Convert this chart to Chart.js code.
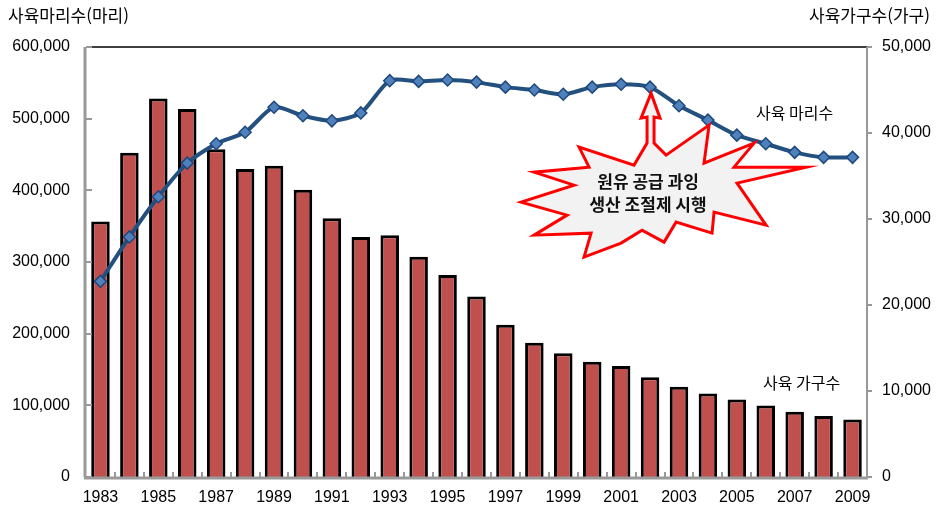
<!DOCTYPE html>
<html lang="ko">
<head>
<meta charset="utf-8">
<title>사육 마리수 / 사육 가구수</title>
<script src="https://cdn.jsdelivr.net/npm/chart.js@4/dist/chart.umd.min.js"></script>
<style>
  html, body { margin: 0; padding: 0; background: #fff; }
  #wrap { width: 937px; height: 520px; position: relative; }
</style>
</head>
<body>
<div id="wrap"><canvas id="grafico"></canvas></div>
<script>
// 연도별 사육 가구수(막대, 오른쪽 축)와 사육 마리수(선, 왼쪽 축)
const anos = ['1983', '1984', '1985', '1986', '1987', '1988', '1989', '1990', '1991',
  '1992', '1993', '1994', '1995', '1996', '1997', '1998', '1999', '2000', '2001',
  '2002', '2003', '2004', '2005', '2006', '2007', '2008', '2009'];

const gaguSu = [29700, 37700, 44000, 42800, 38100, 35800, 36200, 33400, 30100,
  27900, 28100, 25600, 23500, 21000, 17700, 15600, 14400, 13400, 12900,
  11600, 10500, 9700, 9000, 8300, 7600, 7100, 6700];

const mariSu = [273000, 335000, 391000, 438000, 465000, 481000, 516000, 504000, 497000,
  508000, 553000, 552000, 554000, 551000, 544000, 540000, 534000, 544000, 548000,
  544000, 518000, 498000, 477000, 465000, 453000, 446000, 446000];

const ticksMari = [0, 100000, 200000, 300000, 400000, 500000, 600000];
const ticksGagu = [0, 10000, 20000, 30000, 40000, 50000];

const fonteNum = "'Liberation Sans', Arial, sans-serif";
const fonteKr = "'Noto Sans CJK KR', 'Noto Sans', sans-serif";

// 폭발 말풍선 꼭짓점 (화살표 끝 기준 오프셋)
const balao = [
  [-4, 50], [-4, 24], [-10, 25], [0, 0], [9, 25], [3, 24], [3, 50],
  [15, 62], [58, 32], [53, 70], [103, 50], [83, 74], [155, 74], [86, 90],
  [115, 132], [63, 119], [61, 140], [25, 129], [13, 149], [-9, 137], [-30, 150],
  [-67, 164], [-60, 140], [-117, 142], [-84, 122], [-130, 109], [-77, 92],
  [-117, 79], [-62, 74], [-72, 54], [-17, 72]
];

// 축선, 안쪽 눈금, 말풍선, 시리즈 이름
const decoracao = {
  id: 'decoracao',
  afterDatasetsDraw(chart) {
    const { ctx, chartArea: a, scales } = chart;
    const x = scales.x, y = scales.y, y1 = scales.y1;
    ctx.save();

    // 위쪽 테두리
    ctx.strokeStyle = '#000';
    ctx.lineWidth = 1.5;
    ctx.beginPath();
    ctx.moveTo(a.left, a.top);
    ctx.lineTo(a.right, a.top);
    ctx.stroke();

    // 왼쪽 축 + 안쪽 눈금
    ctx.strokeStyle = '#999';
    ctx.lineWidth = 3;
    ctx.beginPath();
    ctx.moveTo(a.left - 1, a.top);
    ctx.lineTo(a.left - 1, a.bottom);
    ctx.stroke();
    ctx.lineWidth = 2;
    ticksMari.forEach(v => {
      const py = Math.round(y.getPixelForValue(v));
      ctx.beginPath();
      ctx.moveTo(a.left, py);
      ctx.lineTo(a.left + 6, py);
      ctx.stroke();
    });

    // 오른쪽 축 + 바깥 눈금
    ctx.lineWidth = 2;
    ctx.beginPath();
    ctx.moveTo(a.right, a.top);
    ctx.lineTo(a.right, a.bottom);
    ctx.stroke();
    ticksGagu.forEach(v => {
      const py = Math.round(y1.getPixelForValue(v));
      ctx.beginPath();
      ctx.moveTo(a.right, py);
      ctx.lineTo(a.right + 5, py);
      ctx.stroke();
    });

    // 아래 축 + 구간 눈금
    ctx.lineWidth = 3;
    ctx.beginPath();
    ctx.moveTo(a.left - 2, a.bottom + 1);
    ctx.lineTo(a.right + 1, a.bottom + 1);
    ctx.stroke();
    ctx.lineWidth = 2;
    const passo = (a.right - a.left) / anos.length;
    for (let i = 1; i < anos.length; i++) {
      const px = Math.round(a.left + passo * i);
      ctx.beginPath();
      ctx.moveTo(px, a.bottom);
      ctx.lineTo(px, a.bottom - 5);
      ctx.stroke();
    }

    // 말풍선: 2002년 마리수 점을 가리킴
    const i2002 = anos.indexOf('2002');
    const ox = x.getPixelForValue(i2002) + 1;
    const oy = y.getPixelForValue(mariSu[i2002]) + 6;
    ctx.beginPath();
    balao.forEach(([dx, dy], k) => {
      if (k === 0) ctx.moveTo(ox + dx, oy + dy);
      else ctx.lineTo(ox + dx, oy + dy);
    });
    ctx.closePath();
    ctx.fillStyle = '#f2f2f2';
    ctx.fill();
    ctx.strokeStyle = '#ff0000';
    ctx.lineWidth = 3;
    ctx.lineJoin = 'miter';
    ctx.stroke();

    ctx.fillStyle = '#111';
    ctx.font = `bold 17px ${fonteKr}`;
    ctx.textAlign = 'center';
    ctx.textBaseline = 'middle';
    ctx.fillText('원유 공급 과잉', ox - 3, oy + 88);
    ctx.fillText('생산 조절제 시행', ox - 3, oy + 111);

    // 시리즈 이름
    ctx.fillStyle = '#000';
    ctx.font = `16px ${fonteKr}`;
    ctx.fillText('사육 마리수', x.getPixelForValue(anos.indexOf('2007')), y.getPixelForValue(508000));
    ctx.fillText('사육 가구수', x.getPixelForValue(anos.indexOf('2007')) + 7, y1.getPixelForValue(10900));

    // 축 제목
    ctx.font = `17px ${fonteKr}`;
    ctx.textAlign = 'left';
    ctx.fillText('사육마리수(마리)', 8, 16);
    ctx.textAlign = 'right';
    ctx.fillText('사육가구수(가구)', 930, 16);

    ctx.restore();
  }
};

const ctx = document.getElementById('grafico').getContext('2d');

new Chart(ctx, {
  data: {
    labels: anos,
    datasets: [
      {
        type: 'line',
        label: '사육 마리수',
        data: mariSu,
        yAxisID: 'y',
        order: 0,
        borderColor: '#23507f',
        borderWidth: 4,
        tension: 0.25,
        pointStyle: 'rectRot',
        pointRadius: 6,
        pointBackgroundColor: '#4f81bd',
        pointBorderColor: '#1f497d',
        pointBorderWidth: 1.5
      },
      {
        type: 'bar',
        label: '사육 가구수',
        data: gaguSu,
        yAxisID: 'y1',
        order: 1,
        backgroundColor: '#c0504d',
        borderColor: '#000',
        borderWidth: { top: 3, left: 3, right: 3, bottom: 0 },
        borderSkipped: 'bottom',
        barPercentage: 0.64,
        categoryPercentage: 1
      }
    ]
  },
  options: {
    responsive: true,
    maintainAspectRatio: false,
    animation: false,
    layout: { padding: { top: 47, left: 0, right: 0, bottom: 0 } },
    plugins: {
      legend: { display: false },
      tooltip: { enabled: false }
    },
    scales: {
      x: {
        offset: true,
        grid: { display: false, drawTicks: false },
        border: { display: false },
        ticks: {
          autoSkip: false,
          maxRotation: 0,
          padding: 11,
          color: '#000',
          font: { family: fonteNum, size: 16 },
          callback: (v, i) => (i % 2 === 0 ? anos[i] : '')
        },
        afterFit: s => { s.height = 43; }
      },
      y: {
        position: 'left',
        min: 0,
        max: 600000,
        grid: { display: false, drawTicks: false },
        border: { display: false },
        ticks: {
          stepSize: 100000,
          padding: 16,
          color: '#000',
          font: { family: fonteNum, size: 16 },
          callback: v => v.toLocaleString('en-US')
        },
        afterFit: s => { s.width = 86; }
      },
      y1: {
        position: 'right',
        min: 0,
        max: 50000,
        grid: { display: false, drawTicks: false },
        border: { display: false },
        ticks: {
          stepSize: 10000,
          padding: 15,
          color: '#000',
          font: { family: fonteNum, size: 16 },
          callback: v => v.toLocaleString('en-US')
        },
        afterFit: s => { s.width = 70; }
      }
    }
  },
  plugins: [decoracao]
});
</script>
</body>
</html>
